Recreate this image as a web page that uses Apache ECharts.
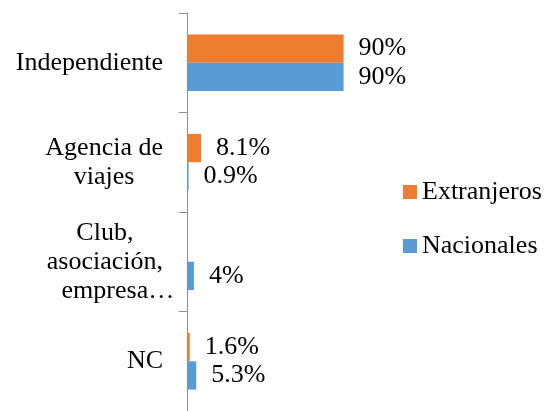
<!DOCTYPE html>
<html>
<head>
<meta charset="utf-8">
<script src="https://cdn.jsdelivr.net/npm/echarts@6/dist/echarts.min.js"></script>
<style>
  html, body { margin: 0; padding: 0; background: #fff; }
  #chart { width: 548px; height: 411px; }
</style>
</head>
<body>
<div id="chart"></div>
<script>
// datos
var categorias = ["Independiente", "Agencia de\nviajes", "Club,\nasociación,\nempresa…", "NC"];
var extranjeros = [90, 8.1, null, 1.6];
var nacionales = [90, 0.9, 4, 5.3];

var fuente = "'Liberation Serif', 'Times New Roman', serif";

var chart = echarts.init(document.getElementById("chart"));
chart.setOption({
  animation: false,
  textStyle: { fontFamily: fuente },
  legend: {
    orient: "vertical",
    left: 403,
    top: 179,
    padding: 0,
    itemWidth: 14,
    itemHeight: 14,
    itemGap: 28,
    icon: "rect",
    textStyle: { fontSize: 26, fontFamily: fuente, color: "#000", lineHeight: 26 },
    data: ["Extranjeros", "Nacionales"],
  },
  grid: { left: 187, right: 187, top: 13, height: 403, containLabel: false },
  xAxis: {
    type: "value",
    min: 0,
    max: 100,
    show: false,
  },
  yAxis: {
    type: "category",
    inverse: true,
    data: categorias,
    axisLine: { lineStyle: { color: "#8c8c8c", width: 1 } },
    axisTick: { show: true, interval: 0, length: 8, lineStyle: { color: "#8c8c8c", width: 1 } },
    axisLabel: {
      margin: 24,
      interval: 0,
      formatter: function (v) {
        // en el original los puntos suspensivos sobresalen del bloque
        return v.split("\n").map(function (l) {
          if (l.slice(-1) === "…") {
            return "{c|" + l.slice(0, -1) + "}{e|\u00a0\u00a0\u00a0\u00a0…}";
          }
          return "{c|" + l + "}";
        }).join("\n");
      },
      rich: {
        c: { align: "center", fontSize: 26, lineHeight: 29, fontFamily: fuente, color: "#000" },
        e: { align: "center", width: 0, fontSize: 26, lineHeight: 29, fontFamily: fuente, color: "#000" },
      },
    },
  },
  series: [
    {
      name: "Extranjeros",
      type: "bar",
      barGap: "0%",
      barCategoryGap: "43%",
      itemStyle: { color: "#ED7D31" },
      label: {
        show: true,
        position: "right",
        distance: 15,
        fontSize: 26,
        fontFamily: fuente,
        color: "#000",
        formatter: "{c}%",
      },
      data: extranjeros,
    },
    {
      name: "Nacionales",
      type: "bar",
      itemStyle: { color: "#5B9BD5" },
      label: {
        show: true,
        position: "right",
        distance: 15,
        fontSize: 26,
        fontFamily: fuente,
        color: "#000",
        formatter: "{c}%",
      },
      data: nacionales,
    },
  ],
});
</script>
</body>
</html>
